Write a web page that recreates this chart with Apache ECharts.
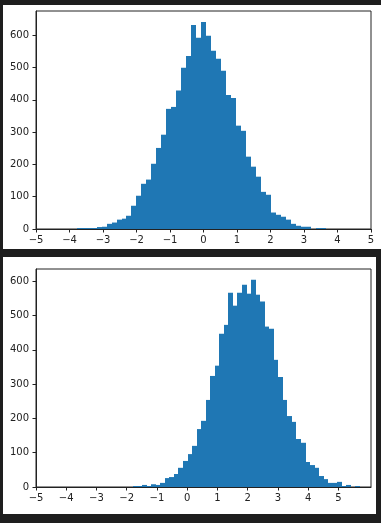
<!DOCTYPE html>
<html>
<head>
<meta charset="utf-8">
<script src="https://cdn.jsdelivr.net/npm/echarts@6/dist/echarts.min.js"></script>
<style>
  html, body { margin: 0; padding: 0; background: #1e1e1e; width: 381px; height: 523px; overflow: hidden; }
  #top { position: absolute; left: 3px; top: 5px; width: 378px; height: 244px; background: #fff; }
  #bottom { position: absolute; left: 3px; top: 257px; width: 373px; height: 257px; background: #fff; }
</style>
</head>
<body>
<div id="top"></div>
<div id="bottom"></div>
<script>
// Top histogram: 50 bins between topLo and topHi
const topLo = -3.785, topHi = 3.645;
const topCounts = [3, 3, 3, 3, 6, 7, 16, 20, 29, 32,
  41, 72, 103, 140, 153, 202, 251, 292, 372, 378,
  429, 499, 536, 632, 592, 641, 598, 552, 527, 490,
  415, 406, 320, 304, 224, 193, 162, 115, 106, 51,
  44, 38, 29, 16, 10, 7, 7, 0, 3, 3];
// Bottom histogram: 50 bins between bottomLo and bottomHi
const bottomLo = -1.788, bottomHi = 5.717;
const bottomCounts = [3, 3, 6, 3, 8, 6, 12, 26, 29, 38,
  56, 76, 96, 120, 169, 193, 254, 324, 354, 447,
  473, 567, 529, 567, 590, 564, 605, 561, 541, 468,
  462, 371, 321, 254, 207, 190, 140, 129, 73, 64,
  56, 32, 23, 12, 12, 15, 3, 6, 0, 3];
const xTicks = [-5, -4, -3, -2, -1, 0, 1, 2, 3, 4, 5];
const yTicks = [0, 100, 200, 300, 400, 500, 600];
const topXRange = [-5, 5], topYMax = 675;
const bottomXRange = [-5, 6.08], bottomYMax = 636;

function bins(lo, hi, counts) {
  const n = counts.length, w = (hi - lo) / n;
  return counts.map((c, i) => [lo + i * w, lo + (i + 1) * w, c]);
}
const fmt = v => (v < 0 ? '\u2212' + (-v) : String(v));
const txt = { color: '#222', fontFamily: 'DejaVu Sans', fontSize: 10 };

function makeOption(data, xr, ymax, gridTop) {
  return {
    animation: false,
    grid: { left: 33, top: gridTop, width: 335, height: 218, show: true,
            borderColor: '#222', borderWidth: 1, backgroundColor: '#fff' },
    xAxis: {
      type: 'value', min: xr[0], max: xr[1],
      axisLine: { show: true, onZero: false, lineStyle: { color: '#222', width: 1 } },
      axisTick: { show: true, length: 3.5, customValues: xTicks, lineStyle: { color: '#222' } },
      axisLabel: { ...txt, margin: 6, customValues: xTicks, formatter: fmt },
      splitLine: { show: false }
    },
    yAxis: {
      type: 'value', min: 0, max: ymax,
      axisLine: { show: true, onZero: false, lineStyle: { color: '#222', width: 1 } },
      axisTick: { show: true, length: 3.5, customValues: yTicks, lineStyle: { color: '#222' } },
      axisLabel: { ...txt, margin: 7, customValues: yTicks, formatter: fmt },
      splitLine: { show: false }
    },
    series: [{
      type: 'custom',
      data: data,
      encode: { x: [0, 1], y: 2 },
      z: 1,
      renderItem: function (params, api) {
        const p0 = api.coord([api.value(0), api.value(2)]);
        const p1 = api.coord([api.value(1), 0]);
        const x0 = Math.round(p0[0]), x1 = Math.round(p1[0]);
        return {
          type: 'rect',
          shape: { x: x0, y: p0[1], width: x1 - x0, height: p1[1] - p0[1] },
          style: { fill: '#1f77b4' }
        };
      }
    }]
  };
}

const c1 = echarts.init(document.getElementById('top'), null, { renderer: 'canvas', width: 378, height: 244 });
c1.setOption(makeOption(bins(topLo, topHi, topCounts), topXRange, topYMax, 6));
const c2 = echarts.init(document.getElementById('bottom'), null, { renderer: 'canvas', width: 373, height: 257 });
c2.setOption(makeOption(bins(bottomLo, bottomHi, bottomCounts), bottomXRange, bottomYMax, 12));
</script>
</body>
</html>
